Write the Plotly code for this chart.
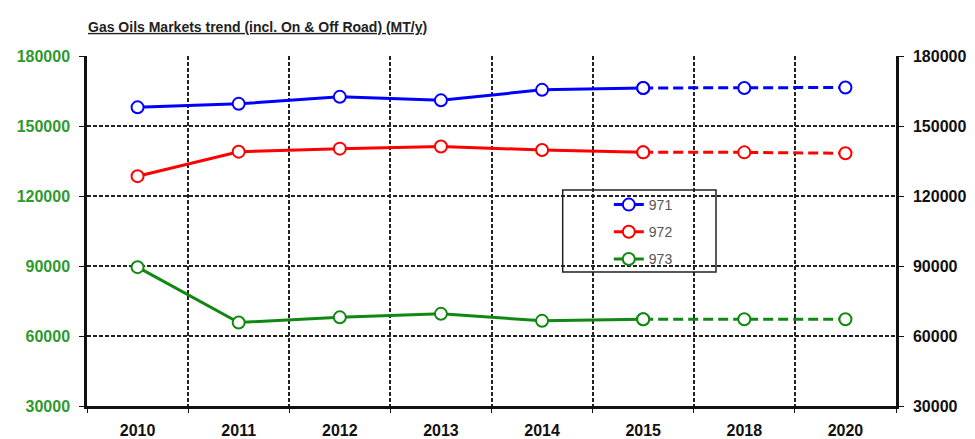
import plotly.graph_objects as go

years = ["2010", "2011", "2012", "2013", "2014", "2015", "2018", "2020"]
n_actual = 6  # 2010..2015 actual (solid), 2015..2020 projected (dashed)

s971 = [158000, 159500, 162500, 161000, 165500, 166300, 166300, 166500]
s972 = [128500, 139000, 140300, 141200, 139700, 138700, 138700, 138300]
s973 = [89500, 65800, 68000, 69500, 66500, 67200, 67200, 67200]

series = [("971", s971, "#0000FF"), ("972", s972, "#FF0000"), ("973", s973, "#118811")]

y_ticks = [30000, 60000, 90000, 120000, 150000, 180000]
y_ticktext = [str(v) for v in y_ticks]
title_text = "Gas Oils Markets trend (incl. On & Off Road) (MT/y)"

fig = go.Figure()
for name, vals, col in series:
    mk = dict(symbol="circle", size=12, color="white", line=dict(color=col, width=2))
    fig.add_trace(go.Scatter(
        x=years[:n_actual], y=vals[:n_actual], name=name, mode="lines+markers",
        line=dict(color=col, width=3), marker=mk, legendgroup=name))
    fig.add_trace(go.Scatter(
        x=years[n_actual - 1:], y=vals[n_actual - 1:], name=name, mode="lines+markers",
        line=dict(color=col, width=3, dash="10px,5px"), marker=mk,
        legendgroup=name, showlegend=False))

# invisible trace to activate the right-hand axis
fig.add_trace(go.Scatter(x=years, y=s971, yaxis="y2", mode="markers",
                         marker=dict(opacity=0), showlegend=False, hoverinfo="skip"))

tickfont_l = dict(family="Liberation Sans, Arial", size=16, color="#2E9A2E", weight="bold")
tickfont_r = dict(family="Liberation Sans, Arial", size=16, color="#111111", weight="bold")

W, H = 967, 431  # page body adds an 8px offset

fig.update_layout(
    width=W, height=H,
    margin=dict(l=79, r=79, t=48, b=33, autoexpand=False),
    paper_bgcolor="white", plot_bgcolor="white",
    title=dict(text="<u>" + title_text + "</u>", x=80 / W, xanchor="left",
               y=1 - 19 / H, yanchor="middle", yref="container",
               font=dict(family="Liberation Sans Narrow, Arial Narrow, Liberation Sans",
                         size=14, color="#222222", weight="bold")),
    xaxis=dict(type="category", range=[-0.5, 7.5], tickson="boundaries",
               showgrid=True, gridcolor="#222222", griddash="4px,2px", gridwidth=1.5,
               showline=True, linecolor="#111111", linewidth=2.5,
               ticks="outside", ticklen=4, tickcolor="#111111", automargin=False,
               tickfont=dict(family="Liberation Sans, Arial", size=16, color="#111111", weight="bold"),
               zeroline=False, ticklabelstandoff=8),
    yaxis=dict(range=[30000, 180000], tickvals=y_ticks, ticktext=y_ticktext, showgrid=True,
               gridcolor="#222222", griddash="4px,2px", gridwidth=1.5,
               showline=True, linecolor="#111111", linewidth=2.5, automargin=False,
               ticks="outside", ticklen=5, tickcolor="#111111",
               tickfont=tickfont_l, zeroline=False, ticklabelstandoff=6),
    yaxis2=dict(range=[30000, 180000], tickvals=y_ticks, ticktext=y_ticktext,
                overlaying="y", side="right", automargin=False,
                showgrid=False, showline=True, linecolor="#111111", linewidth=2.5,
                ticks="outside", ticklen=5, tickcolor="#111111",
                tickfont=tickfont_r, zeroline=False, ticklabelstandoff=6),
    legend=dict(x=0.645, y=0.62, xanchor="left", yanchor="top",
                bgcolor="rgba(0,0,0,0)", borderwidth=0, tracegroupgap=6,
                font=dict(family="Liberation Sans, Arial", size=14, color="#555555")),
    shapes=[dict(type="rect", xref="paper", yref="paper",
                 x0=0.588, x1=0.7775, y0=0.383, y1=0.617,
                 line=dict(color="#222222", width=1.5), fillcolor="white", layer="below")],
    showlegend=True,
)

fig.write_html("out.html")
